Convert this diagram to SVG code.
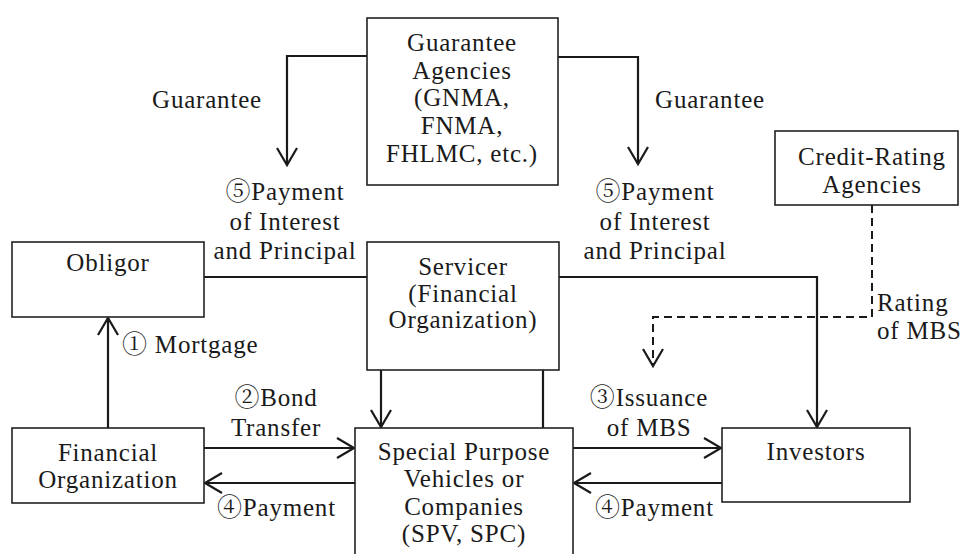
<svg xmlns="http://www.w3.org/2000/svg" width="962" height="554" viewBox="0 0 962 554">
<style>
.box{fill:#fff;stroke:#222;stroke-width:1.6}
.ln{fill:none;stroke:#1a1a1a;stroke-width:2.2}
.dash{fill:none;stroke:#1a1a1a;stroke-width:2;stroke-dasharray:8 5}
text{font-size:25px;fill:#1a1a1a;letter-spacing:0.8px}
.c{text-anchor:middle}
</style>
<defs>
<marker id="a" markerUnits="userSpaceOnUse" markerWidth="40" markerHeight="40" viewBox="-20 -20 40 40" refX="0" refY="0" orient="auto">
<path d="M-17,-10 L0,0 L-17,10" fill="none" stroke="#1a1a1a" stroke-width="2.2"/>
</marker>
</defs>
<rect width="962" height="554" fill="#fff"/>
<g id="connectors">
<path class="ln" d="M367,56 H287 V165" marker-end="url(#a)"/>
<path class="ln" d="M558,57 H638 V164" marker-end="url(#a)"/>
<path class="ln" d="M204,277 H374 V281"/>
<path class="dash" d="M381,283 V366"/>
<path class="ln" d="M381,366 V427" marker-end="url(#a)"/>
<path class="ln" d="M543,428 V367"/>
<path class="dash" d="M543,366 V278 H552"/>
<path class="ln" d="M558,277 H817 V427" marker-end="url(#a)"/>
<path class="dash" d="M872,205 V317 H653 V366" marker-end="url(#a)"/>
<path class="ln" d="M108,428 V318" marker-end="url(#a)"/>
<path class="ln" d="M204,448 H354" marker-end="url(#a)"/>
<path class="ln" d="M355,483 H205" marker-end="url(#a)"/>
<path class="ln" d="M573,448 H721" marker-end="url(#a)"/>
<path class="ln" d="M722,483 H574" marker-end="url(#a)"/>
</g>
<g font-family="'Liberation Serif', 'Noto Serif', 'DejaVu Serif', 'Noto Serif CJK JP', 'Times New Roman', 'Noto Sans CJK JP', serif">
<g id="guarantee-agencies">
<rect class="box" x="367" y="18" width="191" height="167"/>
<text class="c" x="462" y="51">Guarantee</text>
<text class="c" x="462" y="79">Agencies</text>
<text class="c" x="462" y="106">(GNMA,</text>
<text class="c" x="462" y="134">FNMA,</text>
<text class="c" x="462" y="162">FHLMC, etc.)</text>
</g>
<g id="credit-rating">
<rect class="box" x="775" y="131" width="183" height="74"/>
<text class="c" x="872" y="165">Credit-Rating</text>
<text class="c" x="872" y="193">Agencies</text>
</g>
<g id="obligor">
<rect class="box" x="12" y="242" width="192" height="75"/>
<text class="c" x="108" y="271">Obligor</text>
</g>
<g id="servicer">
<rect class="box" x="367" y="242" width="192" height="128"/>
<text class="c" x="463" y="275">Servicer</text>
<text class="c" x="463" y="302">(Financial</text>
<text class="c" x="463" y="328">Organization)</text>
</g>
<g id="financial-organization">
<rect class="box" x="12" y="428" width="192" height="75"/>
<text class="c" x="108" y="461">Financial</text>
<text class="c" x="108" y="488">Organization</text>
</g>
<g id="spv">
<rect class="box" x="355" y="428" width="218" height="140"/>
<text class="c" x="464" y="460">Special Purpose</text>
<text class="c" x="464" y="487">Vehicles or</text>
<text class="c" x="464" y="515">Companies</text>
<text class="c" x="464" y="542">(SPV, SPC)</text>
</g>
<g id="investors">
<rect class="box" x="722" y="428" width="188" height="74"/>
<text class="c" x="816" y="460">Investors</text>
</g>
<g id="labels">
<text class="c" x="207" y="108">Guarantee</text>
<text class="c" x="710" y="108">Guarantee</text>
<text class="c" x="285" y="200">⑤Payment</text>
<text class="c" x="285" y="230">of Interest</text>
<text class="c" x="285" y="259">and Principal</text>
<text class="c" x="655" y="200">⑤Payment</text>
<text class="c" x="655" y="230">of Interest</text>
<text class="c" x="655" y="259">and Principal</text>
<text x="877" y="311">Rating</text>
<text x="877" y="339">of MBS</text>
<text x="122" y="353">① Mortgage</text>
<text class="c" x="276" y="406">②Bond</text>
<text class="c" x="276" y="436">Transfer</text>
<text class="c" x="649" y="406">③Issuance</text>
<text class="c" x="649" y="436">of MBS</text>
<text x="217" y="516">④Payment</text>
<text x="595" y="516">④Payment</text>
</g>
</g>
</svg>
